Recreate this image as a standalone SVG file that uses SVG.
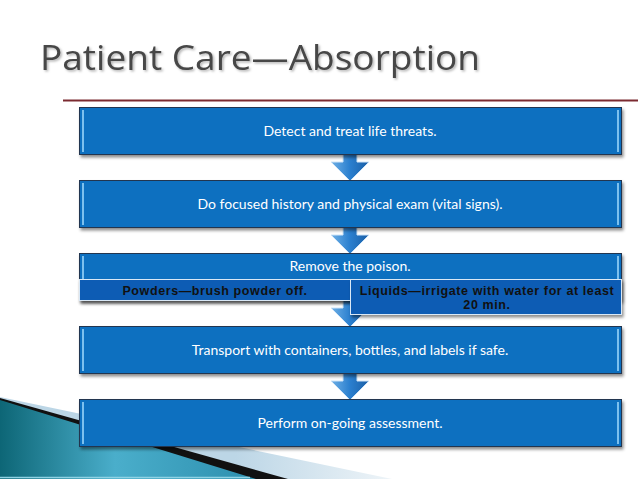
<svg xmlns="http://www.w3.org/2000/svg" width="638" height="479" viewBox="0 0 638 479">
<defs>
<style>
.box{fill:#0c6fc0;stroke:#23364f;stroke-width:1}
.hl{stroke:#7cc0ee;stroke-width:2;fill:none}
.txt{font-family:Lato,"Open Sans",sans-serif;font-size:14px;fill:#ffffff;text-anchor:middle}
.sub{fill:#0a5cb4;stroke:#d9e8f6;stroke-width:1}
.stxt{font-family:"Liberation Sans",Arial,sans-serif;font-weight:bold;font-size:12.5px;letter-spacing:0.6px;fill:#111;text-anchor:middle}
.arr{fill:url(#ag);stroke:#cfe4f7;stroke-width:1}
</style>
<linearGradient id="ag" x1="0" y1="0" x2="1" y2="0">
<stop offset="0" stop-color="#6fb0e6"/>
<stop offset="0.5" stop-color="#2a7fcf"/>
<stop offset="1" stop-color="#1b5fa6"/>
</linearGradient>
<linearGradient id="teal" x1="0" y1="0" x2="1" y2="0">
<stop offset="0" stop-color="#0d6676"/>
<stop offset="0.45" stop-color="#4aaecb"/>
<stop offset="1" stop-color="#2d8fae"/>
</linearGradient>
<linearGradient id="lite" x1="0" y1="0" x2="1" y2="0">
<stop offset="0.6" stop-color="#bcd6e6"/>
<stop offset="1" stop-color="#eef4f8"/>
</linearGradient>
<filter id="sh" x="-5%" y="-20%" width="110%" height="150%">
<feDropShadow dx="1.5" dy="2.5" stdDeviation="1.5" flood-color="#000" flood-opacity="0.45"/>
</filter>
<filter id="tsh" x="-5%" y="-20%" width="110%" height="150%">
<feDropShadow dx="1.5" dy="1.5" stdDeviation="1" flood-color="#000" flood-opacity="0.3"/>
</filter>
</defs>
<rect width="638" height="479" fill="#ffffff"/>
<g id="decor">
<polygon points="0,397 392,479 0,479" fill="url(#lite)"/>
<polygon points="0,398 288,479 0,479" fill="#111111"/>
<polygon points="0,400 256,479 0,479" fill="url(#teal)"/>
<line x1="0" y1="477.5" x2="250" y2="477.5" stroke="#8fd3e4" stroke-width="1.5"/>
</g>
<line x1="63" y1="100.5" x2="638" y2="100.5" stroke="#7b2a30" stroke-width="2"/>
<text x="40" y="70" font-family="'Open Sans','DejaVu Sans',sans-serif" font-size="35" fill="#474747" textLength="440" lengthAdjust="spacingAndGlyphs" filter="url(#tsh)">Patient Care—Absorption</text>
<g id="connectors">
<path class="arr" d="M343,149 H357 V162 H369 L350,181 L331,162 H343 Z"/>
<path class="arr" d="M343,222 H357 V235 H369 L350,254 L331,235 H343 Z"/>
<path class="arr" d="M343,295 H357 V308 H369 L350,327 L331,308 H343 Z"/>
<path class="arr" d="M343,368 H357 V381 H369 L350,400 L331,381 H343 Z"/>
</g>
<g id="n1">
<rect class="box" x="79.5" y="107.5" width="542" height="47" filter="url(#sh)"/>
<line class="hl" x1="83" y1="110" x2="83" y2="152"/><line class="hl" x1="618" y1="110" x2="618" y2="152"/>
<text class="txt" x="350" y="136">Detect and treat life threats.</text>
</g>
<g id="n2">
<rect class="box" x="79.5" y="180.5" width="542" height="47" filter="url(#sh)"/>
<line class="hl" x1="83" y1="183" x2="83" y2="225"/><line class="hl" x1="618" y1="183" x2="618" y2="225"/>
<text class="txt" x="350" y="209">Do focused history and physical exam (vital signs).</text>
</g>
<g id="n3">
<rect class="box" x="79.5" y="253.5" width="542" height="47" filter="url(#sh)"/>
<line class="hl" x1="83" y1="256" x2="83" y2="298"/><line class="hl" x1="618" y1="256" x2="618" y2="298"/>
<text class="txt" x="350" y="271">Remove the poison.</text>
</g>
<g id="n3a">
<rect class="sub" x="79.5" y="279.5" width="271" height="21" filter="url(#sh)"/>
<text class="stxt" x="215" y="295">Powders—brush powder off.</text>
</g>
<g id="n3b">
<rect class="sub" x="350.5" y="279.5" width="271" height="35" filter="url(#sh)"/>
<text class="stxt" x="487" y="295">Liquids—irrigate with water for at least</text>
<text class="stxt" x="487" y="309">20 min.</text>
</g>
<g id="n4">
<rect class="box" x="79.5" y="326.5" width="542" height="47" filter="url(#sh)"/>
<line class="hl" x1="83" y1="329" x2="83" y2="371"/><line class="hl" x1="618" y1="329" x2="618" y2="371"/>
<text class="txt" x="350" y="355">Transport with containers, bottles, and labels if safe.</text>
</g>
<g id="n5">
<rect class="box" x="79.5" y="399.5" width="542" height="47" filter="url(#sh)"/>
<line class="hl" x1="83" y1="402" x2="83" y2="444"/><line class="hl" x1="618" y1="402" x2="618" y2="444"/>
<text class="txt" x="350" y="428">Perform on-going assessment.</text>
</g>
</svg>
